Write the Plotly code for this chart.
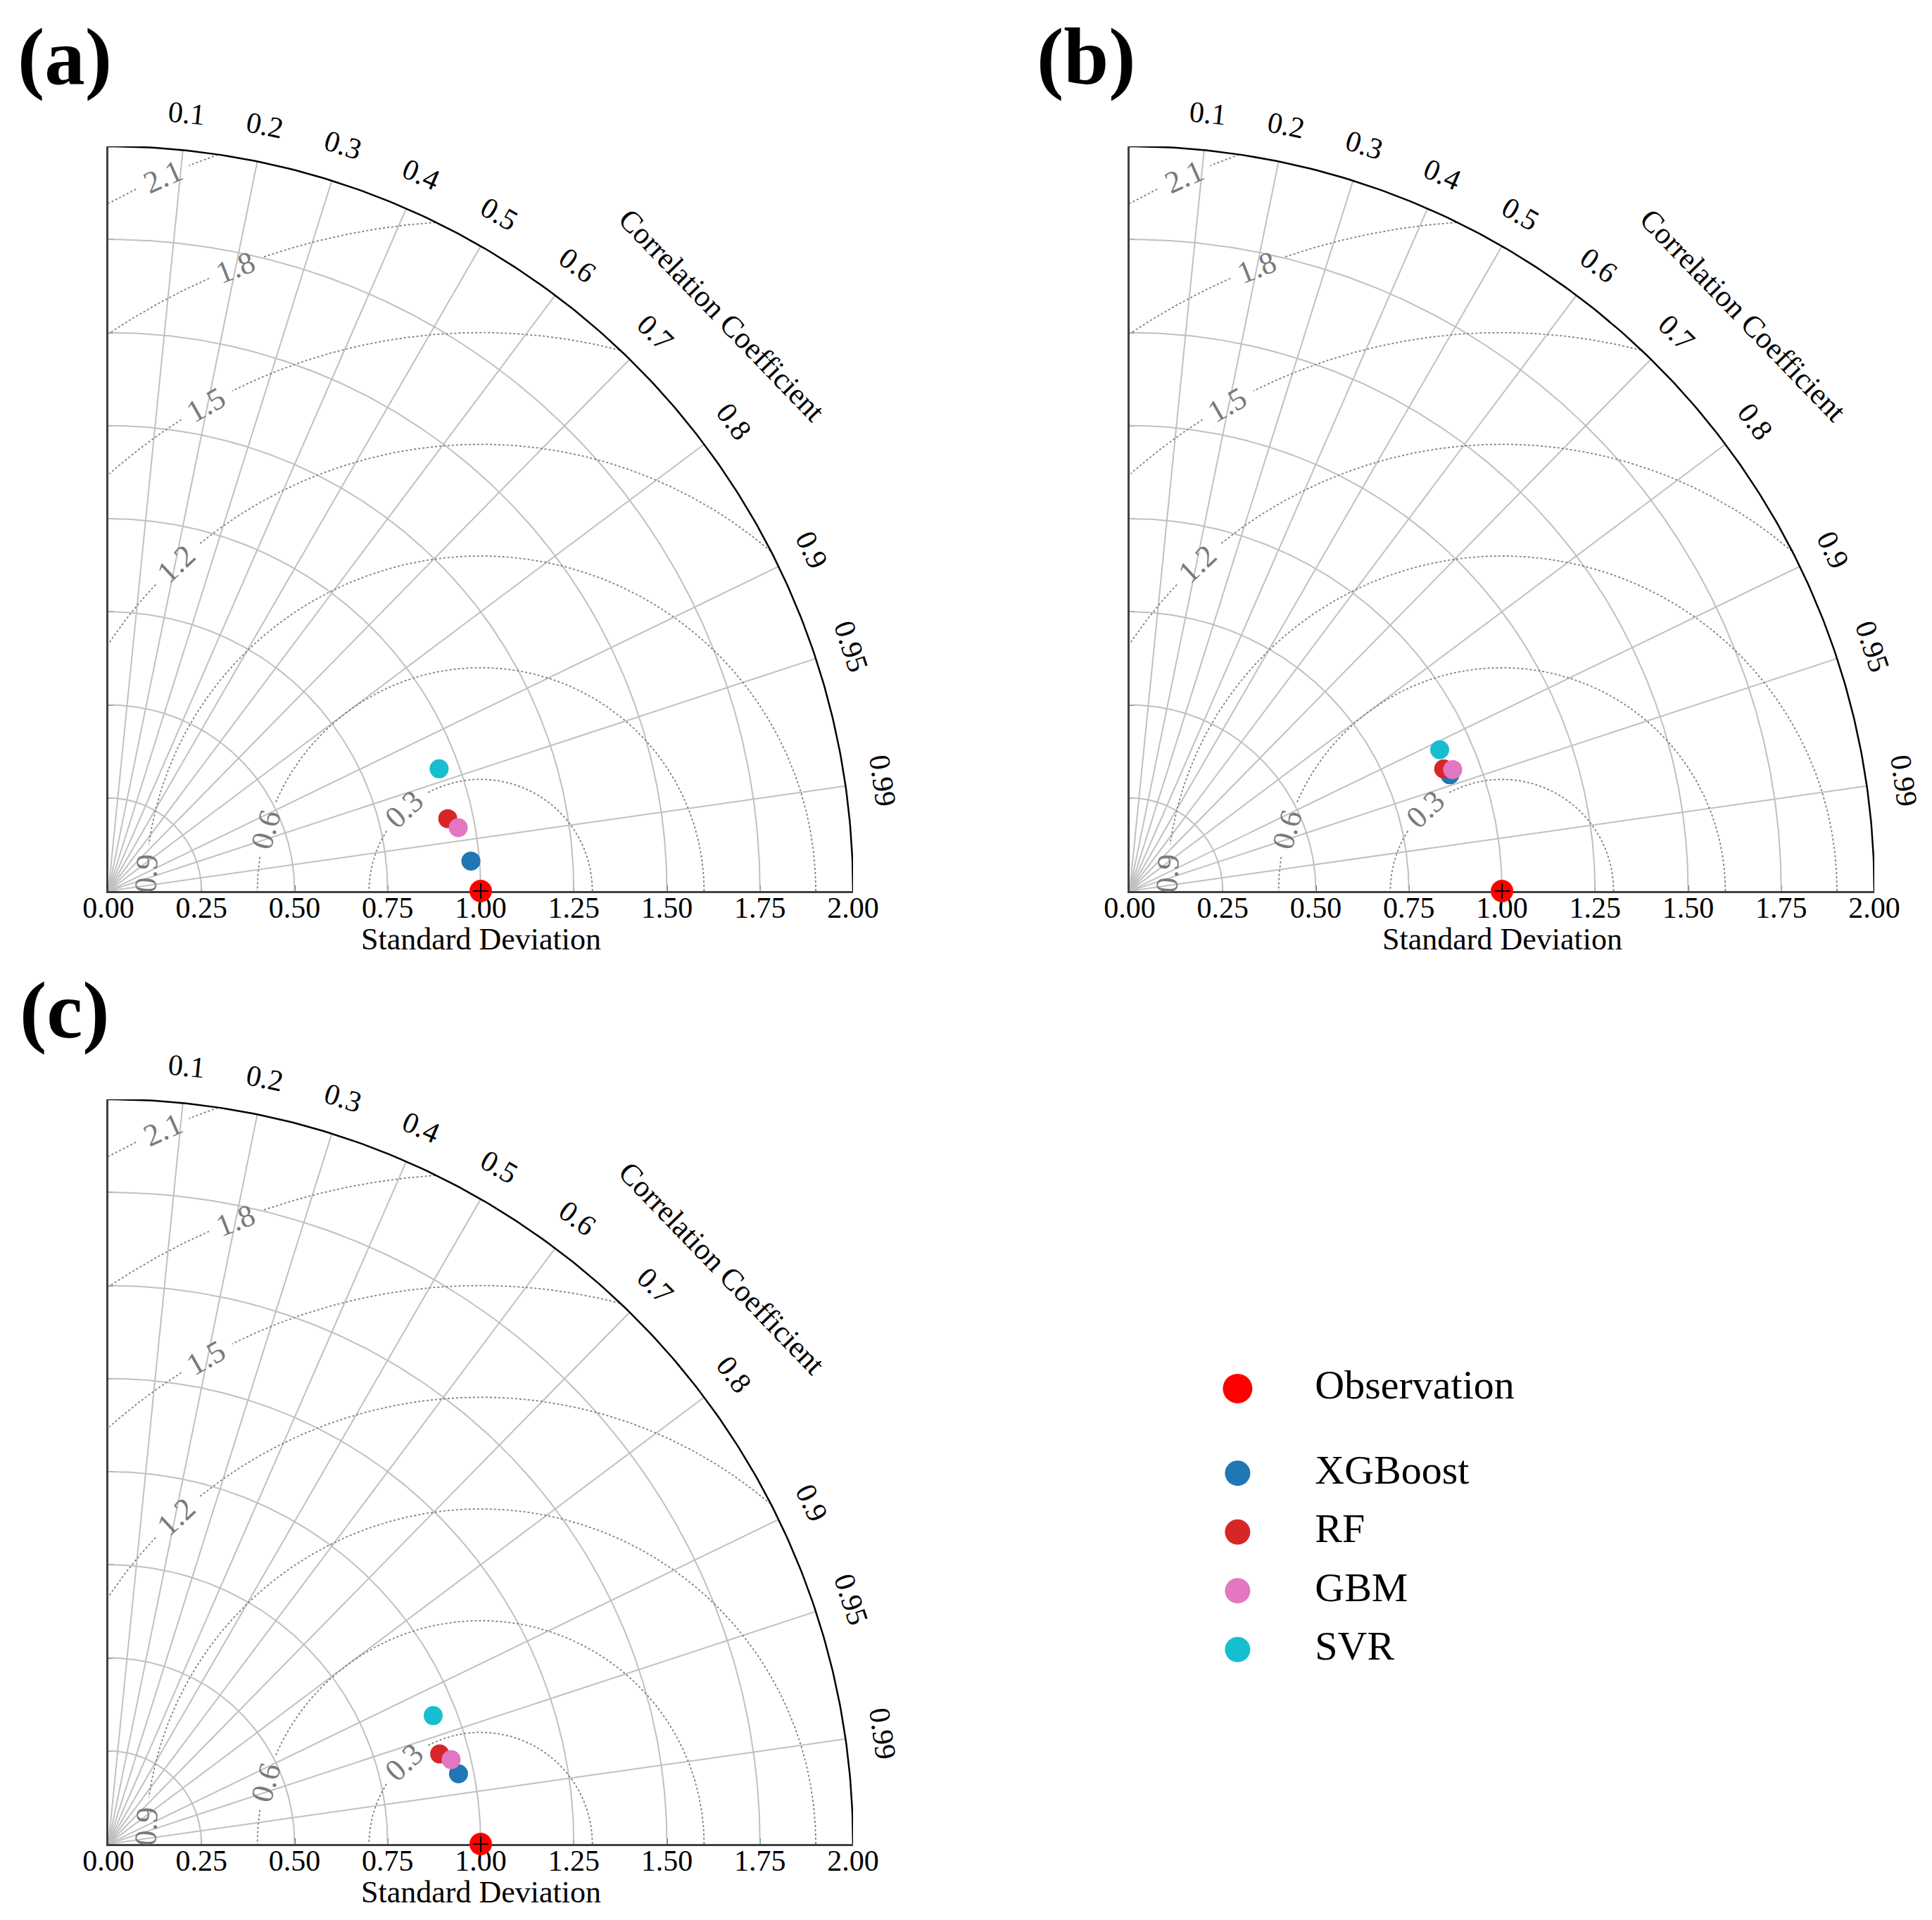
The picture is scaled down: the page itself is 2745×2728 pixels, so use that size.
import numpy as np
import plotly.graph_objects as go

# DATA ################################
#######################################

models = ["XGBoost", "RF", "GBM", "SVR"]
model_colors = ["#1f77b4", "#d62728", "#e377c2", "#17becf"]
obs_label = "Observation"
obs_std = 1.0
obs_corr = 1.0

# standard deviation / correlation of each model, per panel
std_a = [0.977, 0.932, 0.955, 0.947]
corr_a = [0.9966, 0.978, 0.984, 0.938]
std_b = [0.915, 0.905, 0.927, 0.915]
corr_b = [0.940, 0.932, 0.936, 0.910]
std_c = [0.959, 0.922, 0.948, 0.938]
corr_c = [0.9805, 0.965, 0.971, 0.930]

corr_ticks = [0.1, 0.2, 0.3, 0.4, 0.5, 0.6, 0.7, 0.8, 0.9, 0.95, 0.99]
corr_tick_text = ["0.1", "0.2", "0.3", "0.4", "0.5", "0.6", "0.7", "0.8", "0.9", "0.95", "0.99"]
std_ticks = [0.0, 0.25, 0.5, 0.75, 1.0, 1.25, 1.5, 1.75, 2.0]
rms_levels = [0.3, 0.6, 0.9, 1.2, 1.5, 1.8, 2.1]
rms_label_angles = [133, 164, 177, 133, 119.5, 111.5, 114]   # where the contour labels sit (deg, seen from the obs point)

# LAYOUT CONSTANTS ####################
#######################################

W, H = 2745, 2728
UNIT = 529            # pixels per std unit
SMAX = 2.0
FONT = "Liberation Serif"
GRID = "#c0c0c0"
AXIS = "#404040"


def to_xy(std, corr):
    std = np.asarray(std, dtype=float)
    corr = np.asarray(corr, dtype=float)
    return std * corr, std * np.sqrt(1 - corr ** 2)


def xdom(px0):
    return [px0 / W, (px0 + UNIT * SMAX) / W]


def ydom(py0):
    return [(H - py0) / H, (H - py0 + UNIT * SMAX) / H]


def to_paper(ox, oy, x, y):
    # data units of a panel -> paper fraction (for labels outside the axis range)
    return (ox + float(x) * UNIT) / W, (H - oy + float(y) * UNIT) / H


fig = go.Figure()
annotations = []

# panel name, data, origin in pixels
panels = [
    ("(a)", std_a, corr_a, 146, 1258),
    ("(b)", std_b, corr_b, 1597, 1258),
    ("(c)", std_c, corr_c, 146, 2612),
]

for k, (name, stds, corrs, ox, oy) in enumerate(panels, start=1):
    xa = "x" if k == 1 else f"x{k}"
    ya = "y" if k == 1 else f"y{k}"
    sfx = "" if k == 1 else str(k)

    # std arcs
    t = np.linspace(0, np.pi / 2, 200)
    ax_x, ax_y = [], []
    for s in std_ticks[1:-1]:
        ax_x += list(s * np.cos(t)) + [None]
        ax_y += list(s * np.sin(t)) + [None]
    fig.add_trace(go.Scatter(x=ax_x, y=ax_y, mode="lines", line=dict(color=GRID, width=2),
                             hoverinfo="skip", showlegend=False, xaxis=xa, yaxis=ya))

    # correlation rays
    rx, ry = [], []
    for c in corr_ticks:
        ex, ey = to_xy(SMAX, c)
        rx += [0, float(ex), None]
        ry += [0, float(ey), None]
    fig.add_trace(go.Scatter(x=rx, y=ry, mode="lines", line=dict(color=GRID, width=2),
                             hoverinfo="skip", showlegend=False, xaxis=xa, yaxis=ya))

    # centred RMS contours with a gap for the label
    cx, cy = [], []
    phi = np.linspace(0, np.pi, 720)
    for R, ang in zip(rms_levels, rms_label_angles):
        px = obs_std + R * np.cos(phi)
        py = R * np.sin(phi)
        gap = 0.075 / R
        inside = (px >= 0) & (px ** 2 + py ** 2 <= SMAX ** 2) & (np.abs(phi - np.radians(ang)) > gap)
        for xi, yi, ok in zip(px, py, inside):
            if ok:
                cx.append(xi)
                cy.append(yi)
            elif cx and cx[-1] is not None:
                cx.append(None)
                cy.append(None)
        cx.append(None)
        cy.append(None)
        lx = obs_std + R * np.cos(np.radians(ang))
        ly = R * np.sin(np.radians(ang))
        annotations.append(dict(x=lx, y=ly, xref=xa, yref=ya, text=f"{R:.1f}", showarrow=False,
                                xanchor="center", yanchor="middle", textangle=90 - ang,
                                font=dict(family=FONT, size=44, color="#7a7a7a")))
    fig.add_trace(go.Scatter(x=cx, y=cy, mode="lines", line=dict(color="#808080", width=1.8, dash="3px,3px"),
                             hoverinfo="skip", showlegend=False, xaxis=xa, yaxis=ya))

    # outer arc
    fig.add_trace(go.Scatter(x=SMAX * np.cos(t), y=SMAX * np.sin(t), mode="lines",
                             line=dict(color="black", width=2.5),
                             hoverinfo="skip", showlegend=False, xaxis=xa, yaxis=ya))

    # correlation labels (outside the axis range -> paper coordinates)
    for c, lab in zip(corr_ticks, corr_tick_text):
        theta = np.degrees(np.arccos(c))
        lx, ly = to_xy(2.10, c)
        pxp, pyp = to_paper(ox, oy, lx, ly)
        annotations.append(dict(x=pxp, y=pyp, xref="paper", yref="paper", text=lab, showarrow=False,
                                xanchor="center", yanchor="middle", textangle=90 - theta,
                                font=dict(family=FONT, size=42, color="black")))
    pxp, pyp = to_paper(ox, oy, 2.26 * np.cos(np.radians(43.2)), 2.26 * np.sin(np.radians(43.2)))
    annotations.append(dict(x=pxp, y=pyp, xref="paper", yref="paper", text="Correlation Coefficient",
                            showarrow=False, xanchor="center", yanchor="middle", textangle=46,
                            font=dict(family=FONT, size=43, color="black")))

    # x-axis title
    pxp, pyp = to_paper(ox, oy, 1.0, -68 / UNIT)
    annotations.append(dict(x=pxp, y=pyp, xref="paper", yref="paper", text="Standard Deviation",
                            showarrow=False, xanchor="center", yanchor="middle",
                            font=dict(family=FONT, size=44, color="black")))

    # observation point
    x0, y0 = to_xy([obs_std], [obs_corr])
    fig.add_trace(go.Scatter(x=x0, y=y0, mode="markers", cliponaxis=False,
                             marker=dict(color="#ff0000", size=32, line_width=0, opacity=1),
                             showlegend=False, xaxis=xa, yaxis=ya, name=obs_label))
    fig.add_trace(go.Scatter(x=x0, y=y0, mode="markers", cliponaxis=False,
                             marker=dict(symbol="cross-thin", size=16, line=dict(color="black", width=2)),
                             hoverinfo="skip", showlegend=False, xaxis=xa, yaxis=ya))

    # models
    mx, my = to_xy(stds, corrs)
    for i, m in enumerate(models):
        fig.add_trace(go.Scatter(x=[mx[i]], y=[my[i]], mode="markers", cliponaxis=False,
                                 marker=dict(color=model_colors[i], size=27, line_width=0, opacity=1),
                                 showlegend=False, name=m, xaxis=xa, yaxis=ya))

    # panel label
    annotations.append(dict(x=(ox - 62) / W, y=(H - oy + 1185) / H, xref="paper", yref="paper",
                            text=f"<b>{name}</b>", showarrow=False, xanchor="center", yanchor="middle",
                            font=dict(family=FONT, size=115, color="black")))

    fig.update_layout(**{
        f"xaxis{sfx}": dict(domain=xdom(ox), range=[0, SMAX], anchor=ya, tickvals=std_ticks,
                            ticktext=[f"{v:.2f}" for v in std_ticks], ticks="inside", ticklen=8,
                            tickwidth=2, tickcolor=AXIS, showline=True, linecolor=AXIS, linewidth=3,
                            showgrid=False, zeroline=False, layer="below traces", automargin=False,
                            ticklabelstandoff=-15,
                            tickfont=dict(family=FONT, size=42, color="black")),
        f"yaxis{sfx}": dict(domain=ydom(oy), range=[0, SMAX], anchor=xa, tickvals=std_ticks,
                            ticks="inside", ticklen=7, tickwidth=2, tickcolor=AXIS,
                            showticklabels=False, showline=True, linecolor=AXIS, linewidth=3,
                            showgrid=False, zeroline=False, layer="below traces", automargin=False),
    })

# LEGEND (drawn on its own hidden axes) #
#########################################

leg_names = [obs_label] + models
leg_colors = ["#ff0000"] + model_colors
leg_sizes = [42] + [36] * len(models)
leg_gap = 1.44
leg_rows = [0.0] + [leg_gap + i for i in range(len(models))]

fig.add_trace(go.Scatter(x=[0.72] * len(leg_rows), y=leg_rows, mode="markers", cliponaxis=False,
                         marker=dict(color=leg_colors, size=leg_sizes, line_width=0, opacity=1),
                         hoverinfo="skip", showlegend=False, xaxis="x4", yaxis="y4"))
fig.add_trace(go.Scatter(x=[2.29] * len(leg_rows), y=leg_rows, mode="text", text=leg_names,
                         textposition="middle right", cliponaxis=False,
                         textfont=dict(family=FONT, size=58, color="black"),
                         hoverinfo="skip", showlegend=False, xaxis="x4", yaxis="y4"))

fig.update_layout(
    xaxis4=dict(domain=[1700 / W, 2400 / W], range=[0, 10], visible=False, anchor="y4", automargin=False),
    yaxis4=dict(domain=[(H - 2400) / H, (H - 1900) / H], range=[5.21, -0.778], visible=False,
                anchor="x4", automargin=False),
    annotations=annotations,
    width=W, height=H,
    margin=dict(l=0, r=0, t=0, b=0, autoexpand=False),
    plot_bgcolor="white", paper_bgcolor="white",
    showlegend=False,
    font=dict(family=FONT),
)

fig.write_html("out.html")
